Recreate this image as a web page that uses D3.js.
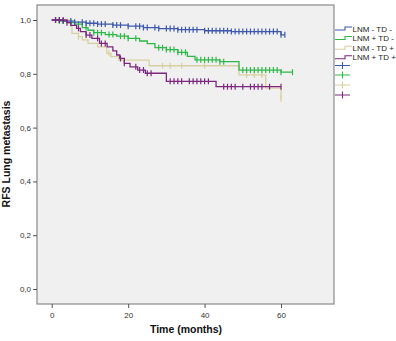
<!DOCTYPE html>
<html><head><meta charset="utf-8">
<script src="https://cdn.jsdelivr.net/npm/d3@7"></script>
<style>body{margin:0;background:#fff}svg{display:block}</style>
</head><body>
<svg id="c" width="396" height="341"></svg>
<script>
// ---- data ----
const groups = ["LNM - TD -", "LNM + TD -", "LNM - TD +", "LNM + TD +"];
const colors = ["#3E58AC", "#2EB848", "#D8CFA0", "#7C287D"];
const yTicks = [0, 0.2, 0.4, 0.6, 0.8, 1.0];
const xTicks = [0, 20, 40, 60];
// step points [time, survival]
const stepsBlue = [[0,1],[3,0.996],[6,0.992],[9,0.988],[12,0.985],[16,0.981],[20,0.977],[24,0.972],[28,0.968],[33,0.964],[40,0.96],[47,0.957],[60,0.945]];
const endBlue = 61;
const censBlue = [1,2,3,5,6,8,9,10,11,12,13,14,16,17,18,20,22,23,24,25,27,28,30,31,32,33,34,35,36,37,38,40,41,42,43,44,45,46,47,48,49,50,51,52,53,54,55,56,57,58,59,60,61];
const stepsGreen = [[0,1],[2,0.996],[4,0.99],[6,0.985],[8,0.972],[9.5,0.962],[11,0.953],[14,0.946],[17,0.94],[20,0.932],[23,0.922],[25,0.912],[27,0.897],[30,0.89],[33,0.88],[35.5,0.865],[37.5,0.852],[44,0.845],[49,0.814],[60,0.806]];
const endGreen = 63;
const censGreen = [1,2,3,5,7,9,11,12,13,15,16,18,19,20,22,28,29,30,31,32,33,34,35,38,39,40,41,42,43,44,45,50,51,52,53,54,55,56,57,58,59,60,63];
const stepsTan = [[0,1],[5,0.976],[5.3,0.95],[7,0.938],[8,0.926],[9.5,0.913],[12,0.9],[14.4,0.876],[15.5,0.864],[17.5,0.851],[25.5,0.83],[49,0.796],[56,0.747],[60,0.707]];
const endTan = 60;
const censTan = [7,15,29,31,34,40,51,53,55,60];
const stepsPurple = [[0,1],[4,0.99],[5,0.98],[6.5,0.969],[7.5,0.957],[9,0.944],[10.5,0.932],[12.5,0.913],[14.5,0.9],[16,0.885],[17,0.87],[17.8,0.857],[19,0.839],[20.5,0.826],[22.5,0.814],[24.5,0.802],[30,0.772],[43,0.752]];
const endPurple = 60;
const censPurple = [1,2,3,4,7,9,10,12,13,14,18,19,22,23,24,25,26,31,32,33,34,36,37,38,39,40,41,45,46,47,48,50,52,53,54,55,57,60];

const series = [
  {steps: stepsBlue, end: endBlue, cens: censBlue},
  {steps: stepsGreen, end: endGreen, cens: censGreen},
  {steps: stepsTan, end: endTan, cens: censTan},
  {steps: stepsPurple, end: endPurple, cens: censPurple}
];

// ---- layout ----
const L = 37, R = 334, T = 5, B = 304;
const x = d3.scaleLinear().domain([-3.85, 73.86]).range([L, R]);
const y = d3.scaleLinear().domain([-0.0558, 1.0558]).range([B, T]);
const svg = d3.select("#c");
const font = "Arial, 'Liberation Sans', sans-serif";

svg.append("rect").attr("x", L).attr("y", T).attr("width", R - L).attr("height", B - T)
  .attr("fill", "#f0f0f0").attr("stroke", "#8a8a8a").attr("stroke-width", 1.2);

const yAxis = svg.append("g").attr("transform", `translate(${L},0)`)
  .call(d3.axisLeft(y).tickValues(yTicks).tickSize(4).tickSizeOuter(0)
    .tickFormat(d => d3.format(".1f")(d).replace(".", ",")));
yAxis.select(".domain").remove();
yAxis.selectAll("line").attr("stroke", "#555");
yAxis.selectAll("text").attr("font-family", font).attr("font-size", 8).attr("fill", "#333").attr("dx", 1);

const xAxis = svg.append("g").attr("transform", `translate(0,${B})`)
  .call(d3.axisBottom(x).tickValues(xTicks).tickSize(4).tickSizeOuter(0));
xAxis.select(".domain").remove();
xAxis.selectAll("line").attr("stroke", "#555");
xAxis.selectAll("text").attr("font-family", font).attr("font-size", 8).attr("fill", "#333").attr("dy", "0.9em");

svg.append("text").attr("x", 186).attr("y", 333).attr("text-anchor", "middle")
  .attr("font-family", font).attr("font-weight", "bold").attr("font-size", 10.5).attr("fill", "#111")
  .text("Time (months)");
svg.append("text").attr("transform", "translate(10,154) rotate(-90)").attr("text-anchor", "middle")
  .attr("font-family", font).attr("font-weight", "bold").attr("font-size", 10.5).attr("fill", "#111")
  .text("RFS Lung metastasis");

const line = d3.line().x(d => x(d[0])).y(d => y(d[1])).curve(d3.curveStepAfter);
// value of a step function at time t
function sAt(steps, t) { let v = steps[0][1]; for (const s of steps) if (s[0] <= t) v = s[1]; return v; }

// draw tan first, then others so blue/green/purple sit on top
const order = [2, 1, 0, 3];
order.forEach(i => {
  const s = series[i];
  const pts = s.steps.concat([[s.end, s.steps[s.steps.length - 1][1]]]);
  svg.append("path").attr("d", line(pts)).attr("fill", "none")
    .attr("stroke", colors[i]).attr("stroke-width", 1.3);
  svg.append("g").selectAll("line").data(s.cens).join("line")
    .attr("x1", d => x(d)).attr("x2", d => x(d))
    .attr("y1", d => y(sAt(s.steps, d)) - 3).attr("y2", d => y(sAt(s.steps, d)) + 3)
    .attr("stroke", colors[i]).attr("stroke-width", 1.2);
});

// ---- legend ----
const lg = svg.append("g");
const stepRows = [28.5, 38, 47.7, 57.2];
groups.forEach((g, i) => {
  const yy = stepRows[i];
  lg.append("path").attr("d", `M335,${yy + 1.5}H345V${yy - 1.5}H352`)
    .attr("fill", "none").attr("stroke", colors[i]).attr("stroke-width", 1.1);
  lg.append("text").attr("x", 352.5).attr("y", yy + 3).attr("font-family", font)
    .attr("font-size", 8).attr("fill", "#222").text(g);
});
const crossRows = [65.5, 75, 85, 95];
groups.forEach((g, i) => {
  const yy = crossRows[i];
  lg.append("path").attr("d", `M335,${yy}H350M342.5,${yy - 3.5}V${yy + 3.5}`)
    .attr("fill", "none").attr("stroke", colors[i]).attr("stroke-width", 1.1);
});
</script>
</body></html>
